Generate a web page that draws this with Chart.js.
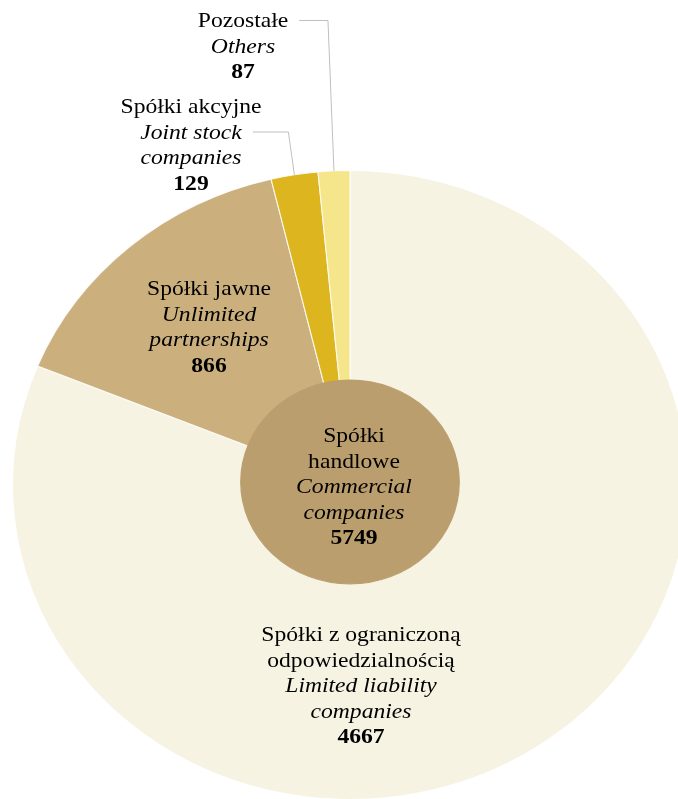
<!DOCTYPE html>
<html>
<head>
<meta charset="utf-8">
<script src="https://cdn.jsdelivr.net/npm/chart.js@4.4.1/dist/chart.umd.min.js"></script>
<style>
    html, body { margin: 0; padding: 0; background: #fff; overflow: hidden; width: 678px; height: 799px; }
    #wrap { position: absolute; left: 0; top: 0; width: 700px; height: 810px; }
</style>
</head>
<body>
<div id="wrap"><canvas id="chart"></canvas></div>
<script>
// Company types (outer ring) and their total (centre disc).
const categoriesPl = [
    "Spółki z ograniczoną\nodpowiedzialnością",
    "Spółki jawne",
    "Spółki akcyjne",
    "Pozostałe",
];
const categoriesEn = [
    "Limited liability\ncompanies",
    "Unlimited\npartnerships",
    "Joint stock\ncompanies",
    "Others",
];
const sliceValues = [4667, 866, 129, 87];

const totalLabelPl = "Spółki\nhandlowe";
const totalLabelEn = "Commercial\ncompanies";
const totalValue = [5749];

const sliceColors = ["#F7F3E3", "#CBB07E", "#DDB51E", "#F5E68B"];
const totalColor = "#BB9E6E";

// The original is drawn a little wider than tall.
const STRETCH = 1.073;
const FONT = "'Liberation Serif', 'Times New Roman', serif";
const FONT_PX = 22;
const LINE_H = 25.5;

// Where each text block sits (centre x, first baseline) in page px.
const labelSpots = [
    { x: 361, y: 641 },
    { x: 209, y: 295 },
    { x: 191, y: 113 },
    { x: 243, y: 27 },
];
const totalSpot = { x: 354, y: 442 };
// Slices labelled outside the pie: which text line the leader leaves from.
const leaders = { 2: 1, 3: 0 };

function blockLines(pl, en, value) {
    const out = [];
    pl.split("\n").forEach((t) => out.push({ t, style: "" }));
    en.split("\n").forEach((t) => out.push({ t, style: "italic " }));
    out.push({ t: String(value), style: "bold " });
    return out;
}

// Widen the pie; the centre disc sits a touch high and a touch larger.
const stretchPlugin = {
    id: "stretch",
    beforeDatasetDraw(chart, args) {
        const ctx = chart.ctx;
        const el = args.meta.data[0];
        const cx = el.x, cy = el.y;
        ctx.save();
        ctx.translate(cx, cy);
        ctx.scale(STRETCH, 1);
        if (args.index === 1) {
            ctx.translate(0, -3);
            ctx.scale(1.03, 1.03);
        }
        ctx.translate(-cx, -cy);
    },
    afterDatasetDraw(chart) {
        chart.ctx.restore();
    },
};

const labelPlugin = {
    id: "labels",
    afterDraw(chart) {
        const ctx = chart.ctx;
        const meta = chart.getDatasetMeta(0);
        const cx = meta.data[0].x;

        const drawBlock = (spot, lines) => {
            ctx.save();
            ctx.translate(cx, 0);
            ctx.scale(STRETCH, 1);
            ctx.translate(-cx, 0);
            ctx.fillStyle = "#000";
            ctx.textAlign = "center";
            ctx.textBaseline = "alphabetic";
            const x = cx + (spot.x - cx) / STRETCH;
            lines.forEach((ln, i) => {
                ctx.font = `${ln.style}${FONT_PX}px ${FONT}`;
                ctx.fillText(ln.t, x, spot.y + i * LINE_H);
            });
            ctx.restore();
        };

        sliceValues.forEach((v, i) => {
            const lines = blockLines(categoriesPl[i], categoriesEn[i], v);
            drawBlock(labelSpots[i], lines);

            if (leaders[i] === undefined) return;
            const k = leaders[i];
            ctx.save();
            ctx.font = `${lines[k].style}${FONT_PX}px ${FONT}`;
            const w = ctx.measureText(lines[k].t).width * STRETCH;
            const arc = meta.data[i].getProps(
                ["x", "y", "startAngle", "endAngle", "outerRadius"], true);
            const mid = (arc.startAngle + arc.endAngle) / 2;
            const px = arc.x + Math.cos(mid) * arc.outerRadius * STRETCH;
            const py = arc.y + Math.sin(mid) * arc.outerRadius;
            const ly = labelSpots[i].y + k * LINE_H - 6.5;
            const lx = labelSpots[i].x + w / 2 + 11;
            ctx.strokeStyle = "#BFBFBF";
            ctx.lineWidth = 1;
            ctx.beginPath();
            ctx.moveTo(lx, ly);
            ctx.lineTo(px - 6, ly);
            ctx.lineTo(px, py);
            ctx.stroke();
            ctx.restore();
        });

        drawBlock(totalSpot, blockLines(totalLabelPl, totalLabelEn, totalValue[0]));
    },
};

new Chart(document.getElementById("chart"), {
    type: "pie",
    data: {
        labels: categoriesPl,
        datasets: [
            {
                data: sliceValues,
                backgroundColor: sliceColors,
                borderColor: "rgba(255,255,255,0.85)",
                borderWidth: 1,
                weight: 2.18,
                order: 1,
            },
            {
                data: totalValue,
                backgroundColor: totalColor,
                borderColor: totalColor,
                borderWidth: 1,
                weight: 1,
                order: 0,
            },
        ],
    },
    options: {
        responsive: true,
        maintainAspectRatio: false,
        animation: false,
        events: [],
        layout: { padding: { left: 35, right: 35, top: 170, bottom: 10 } },
        plugins: {
            legend: { display: false },
            tooltip: { enabled: false },
        },
    },
    plugins: [stretchPlugin, labelPlugin],
});
</script>
</body>
</html>
